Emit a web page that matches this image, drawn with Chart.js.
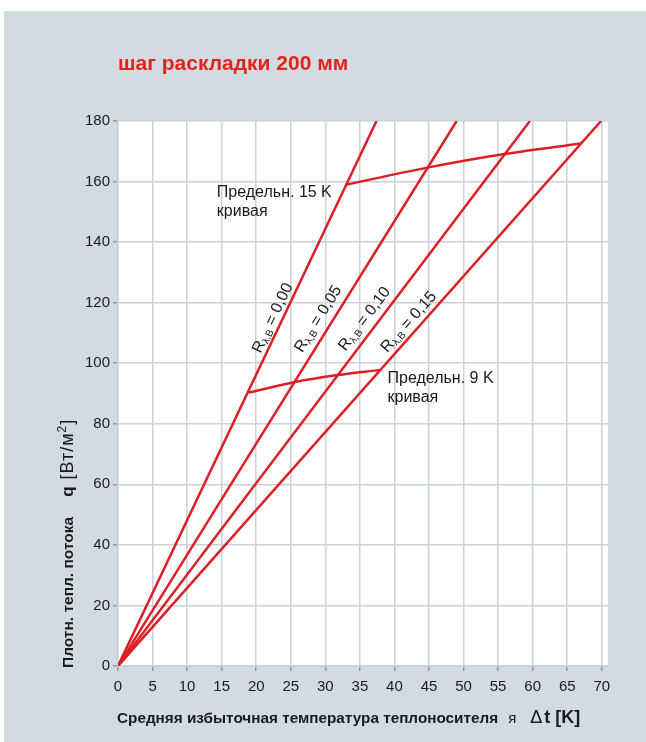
<!DOCTYPE html>
<html>
<head>
<meta charset="utf-8">
<script src="https://cdn.jsdelivr.net/npm/chart.js@4"></script>
<style>
  body { margin: 0; background: #fff; }
  #bg { position: absolute; left: 4px; top: 11px; width: 642px; height: 731px; background: #d2dbe1; }
  #chart { position: absolute; left: 0; top: 0; }
</style>
</head>
<body>
<div id="bg"></div>
<canvas id="chart" width="646" height="742"></canvas>
<script>
// R_lambda,B lines: start at origin, reach q = 180 at these Δt values
const rValues = ['0,00', '0,05', '0,10', '0,15'];
const lineEndX = [37.4, 49.0, 59.6, 69.9];
const lineEndY = 180;

// limit curves (points where they cross the R lines)
const limit15X = [32.9, 44.75, 55.9, 67.0];
const limit15Y = [158.9, 164.6, 169.1, 172.6];
const limit9X = [18.95, 25.6, 31.8, 38.0];
const limit9Y = [90.3, 93.8, 96.1, 97.8];

// label anchors in data units
const rLabelX = [22.4, 29.0, 35.7, 42.1];
const rLabelY = [114.9, 114.6, 114.6, 113.6];
const limitText = ['Предельн. 15 K', 'Предельн. 9 K'];
const limitLabelX = [14.3, 39.0];
const limitLabelY = [154.9, 93.5];

const xTicksMax = 70;
const yTicksMax = 180;

const RED = '#dc1f26';
const FONT = '"Liberation Sans", Arial, sans-serif';

const datasets = [];
lineEndX.forEach((ex, i) => {
  datasets.push({
    data: [{ x: 0, y: 0 }, { x: ex, y: lineEndY }],
    borderColor: RED, borderWidth: 2.5, pointRadius: 0, tension: 0
  });
});
datasets.push({
  data: limit15X.map((x, i) => ({ x: x, y: limit15Y[i] })),
  borderColor: RED, borderWidth: 2.5, pointRadius: 0, tension: 0.3
});
datasets.push({
  data: limit9X.map((x, i) => ({ x: x, y: limit9Y[i] })),
  borderColor: RED, borderWidth: 2.5, pointRadius: 0, tension: 0.3
});

const textPlugin = {
  id: 'texts',
  beforeDraw(chart) {
    const a = chart.chartArea;
    const ctx = chart.ctx;
    ctx.save();
    ctx.fillStyle = '#fff';
    ctx.fillRect(a.left, a.top, a.right - a.left, a.bottom - a.top);
    ctx.restore();
  },
  afterDraw(chart) {
    const ctx = chart.ctx;
    const xs = chart.scales.x, ys = chart.scales.y;
    const a = chart.chartArea;
    ctx.save();

    // title
    ctx.fillStyle = '#e2231a';
    ctx.font = 'bold 21px ' + FONT;
    ctx.textBaseline = 'alphabetic';
    ctx.textAlign = 'left';
    ctx.fillText('шаг раскладки 200 мм', 118, 70);

    // x axis title
    ctx.fillStyle = '#1a1a1a';
    let x = 117;
    const by = 723;
    ctx.font = 'bold 15.3px ' + FONT;
    const t1 = 'Средняя избыточная температура теплоносителя';
    ctx.fillText(t1, x, by);
    x += ctx.measureText(t1).width + 10;
    ctx.font = '15px ' + FONT;
    ctx.fillText('я', x, by);
    x += ctx.measureText('я').width + 14;
    ctx.font = '18px "DejaVu Sans", ' + FONT;
    ctx.fillText('∆', x, by);
    x += ctx.measureText('∆').width + 2;
    ctx.font = 'bold 18px ' + FONT;
    ctx.fillText('t [K]', x, by);

    // y axis title (rotated, reading upward, starting at plot bottom)
    ctx.save();
    ctx.translate(73, a.bottom + 2);
    ctx.rotate(-Math.PI / 2);
    let p = 0;
    ctx.font = 'bold 15.5px ' + FONT;
    const y1 = 'Плотн. тепл. потока';
    ctx.fillText(y1, p, 0);
    p += ctx.measureText(y1).width + 20;
    ctx.font = 'bold 17px ' + FONT;
    ctx.fillText('q', p, 0);
    p += ctx.measureText('q').width + 7;
    ctx.font = '18px ' + FONT;
    ctx.letterSpacing = '1px';
    ctx.fillText('[Вт/м', p, 0);
    p += ctx.measureText('[Вт/м').width;
    ctx.font = '12px ' + FONT;
    ctx.fillText('2', p, -7);
    p += ctx.measureText('2').width;
    ctx.font = '18px ' + FONT;
    ctx.fillText(']', p, 0);
    ctx.letterSpacing = '0px';
    ctx.restore();

    // R labels along lines
    rValues.forEach((r, i) => {
      const x0 = xs.getPixelForValue(0), y0 = ys.getPixelForValue(0);
      const x1 = xs.getPixelForValue(lineEndX[i]), y1p = ys.getPixelForValue(lineEndY);
      const ang = Math.atan2(y1p - y0, x1 - x0);
      const cx = xs.getPixelForValue(rLabelX[i]), cy = ys.getPixelForValue(rLabelY[i]);
      ctx.save();
      ctx.translate(cx, cy);
      ctx.rotate(ang);
      ctx.textBaseline = 'middle';
      ctx.font = '16px ' + FONT;
      const wR = ctx.measureText('R').width;
      const wEq = ctx.measureText(' = ' + r).width;
      ctx.font = '10px ' + FONT;
      const wSub = ctx.measureText('λ,B').width;
      let s = -(wR + wSub + wEq) / 2;
      ctx.font = '16px ' + FONT;
      ctx.fillText('R', s, 0);
      s += wR;
      ctx.font = '10px ' + FONT;
      ctx.fillText('λ,B', s, 4);
      s += wSub;
      ctx.font = '16px ' + FONT;
      ctx.fillText(' = ' + r, s, 0);
      ctx.restore();
    });

    // limit curve labels
    ctx.font = '16px ' + FONT;
    ctx.textBaseline = 'alphabetic';
    limitText.forEach((t, i) => {
      const lx = xs.getPixelForValue(limitLabelX[i]);
      const ly = ys.getPixelForValue(limitLabelY[i]);
      ctx.fillText(t, lx, ly);
      ctx.fillText('кривая', lx, ly + 19);
    });

    ctx.restore();
  }
};

new Chart(document.getElementById('chart'), {
  type: 'line',
  data: { datasets: datasets },
  options: {
    responsive: false,
    animation: false,
    layout: { padding: { left: 0, top: 121, right: 38, bottom: 0 } },
    plugins: { legend: { display: false }, tooltip: { enabled: false } },
    scales: {
      x: {
        type: 'linear', min: 0, max: 70.9,
        afterFit: s => { s.height = 76; },
        ticks: {
          stepSize: 5, includeBounds: false, padding: 7,
          color: '#1a1a1a', font: { family: FONT, size: 15 },
          callback: v => (v <= xTicksMax ? v : '')
        },
        grid: { color: '#c9d2d9', lineWidth: 1.5, tickLength: 5, tickColor: '#8e989f' },
        border: { display: true, color: '#c9d2d9', width: 1.5 }
      },
      y: {
        type: 'linear', min: 0, max: yTicksMax,
        afterFit: s => { s.width = 118; },
        ticks: {
          stepSize: 20, padding: 3,
          color: '#1a1a1a', font: { family: FONT, size: 15 }
        },
        grid: { color: '#c9d2d9', lineWidth: 1.5, tickLength: 5, tickColor: '#8e989f' },
        border: { display: true, color: '#c9d2d9', width: 1.5 }
      }
    }
  },
  plugins: [textPlugin]
});
</script>
</body>
</html>
